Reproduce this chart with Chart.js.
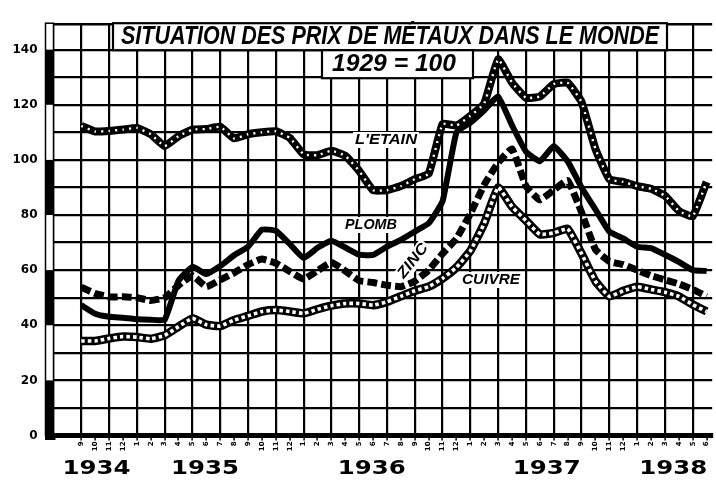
<!DOCTYPE html>
<html><head><meta charset="utf-8">
<script src="https://cdn.jsdelivr.net/npm/chart.js@4"></script>
<style>html,body{margin:0;padding:0;background:#fff}</style>
</head><body>
<canvas id="c" width="716" height="482"></canvas>
<script>
// Months Sep 1934 .. Jun 1938 (index 0 = Sept 1934)
const months = ['9','10','11','12',
  '1','2','3','4','5','6','7','8','9','10','11','12',
  '1','2','3','4','5','6','7','8','9','10','11','12',
  '1','2','3','4','5','6','7','8','9','10','11','12',
  '1','2','3','4','5','6'];
const years = ['1934','1935','1936','1937','1938'];
const yTickLabels = [0,20,40,60,80,100,120,140];

// 1929 = 100
const tin = [112.3,110.3,110.5,111,111.6,109.3,105,108.6,111,111.2,
  112,107.8,109.3,110,110.4,108,102,101.7,103.3,101.5,
  96,89,89,90.5,93,95,113,112.5,116,120.5,
  136.5,128,122.5,123,127.5,128,121,104,93,92,
  90.5,89.5,87,81.5,79.5,92];
const lead = [47.3,44.2,43.1,42.7,42.2,42,42,56.2,61.2,58.6,
  61.5,65.4,68.5,74.7,74.3,69.5,64.4,68.1,70.7,68.2,
  65.6,65.5,68.5,71,74,77,85,110,113.5,118,
  123,112.5,103,99.5,105,99.5,90,82,74,71.5,
  68.5,68,65.6,63,60,59.7];
const zinc = [53.8,51.5,50.3,50.3,50,49,50,54.5,58,54,
  56.5,59,62,64,62.5,59.5,56.7,59.8,62.8,59.7,
  56.2,55.5,54.5,54,56,60,66,71.5,80.5,91,
  99,104,90.5,85.5,89,92.5,81,67.5,63.2,62,
  60,58,56.5,55,53,50.5];
const copper = [34.3,34.3,35.2,35.9,35.7,35.1,36.3,39.5,42.5,40.2,
  39.7,41.9,43.4,45,45.5,45,44.3,45.8,47.1,47.9,
  47.9,47.3,48.5,50.5,52.5,54,57,61,67,77,
  90,83,78,73,73.5,75,66,56,50.5,52.5,
  54,53,52,50.5,47.5,45];

const pts = arr => arr.map((v,i)=>({x:i,y:v}));

function fitText(ctx, text, cx, cy, w, font, angle){
  ctx.save();
  ctx.font = font;
  const m = ctx.measureText(text).width;
  ctx.translate(cx, cy);
  if (angle) ctx.rotate(angle);
  ctx.scale(w/m, 1);
  ctx.textAlign = 'center';
  ctx.textBaseline = 'middle';
  ctx.fillStyle = '#000';
  ctx.fillText(text, 0, 0);
  ctx.restore();
}

const deco = {
  id:'deco',
  afterDraw(chart){
    const ctx = chart.ctx, ca = chart.chartArea;
    const xs = chart.scales.x, ys = chart.scales.y;
    ctx.save();
    // top frame
    ctx.strokeStyle='#000'; ctx.lineWidth=2.5;
    ctx.beginPath(); ctx.moveTo(45, ca.top+1); ctx.lineTo(ca.right, ca.top+1); ctx.stroke();
    // bottom frame extension under the left bar
    ctx.lineWidth=5;
    ctx.beginPath(); ctx.moveTo(45, ca.bottom+2); ctx.lineTo(ca.left+2, ca.bottom+2); ctx.stroke();
    // left bar with alternating blocks
    ctx.fillStyle='#fff'; ctx.fillRect(45, ca.top, 8, ca.bottom-ca.top);
    ctx.fillStyle='#000';
    for (let v=0; v<140; v+=40){
      const y1 = ys.getPixelForValue(v+20), y0 = ys.getPixelForValue(v);
      ctx.fillRect(45, y1, 8.5, y0-y1);
    }
    ctx.lineWidth=1.5;
    ctx.strokeRect(45.5, ca.top, 8, ca.bottom-ca.top);
    // title boxes
    ctx.fillStyle='#fff'; ctx.lineWidth=2.2; ctx.strokeStyle='#000';
    ctx.fillRect(113, ca.top, 554, 27); ctx.strokeRect(113, ca.top, 554, 27);
    ctx.fillRect(322, ca.top+27, 151, 28); ctx.strokeRect(322, ca.top+27, 151, 28);
    fitText(ctx, 'SITUATION DES PRIX DE MÉTAUX DANS LE MONDE', 390, ca.top+14, 538, 'italic bold 25px "Liberation Sans"');
    fitText(ctx, '1929 = 100', 394, ca.top+41.5, 124, 'italic bold 24px "Liberation Sans"');
    // series labels
    const labs = [
      ["L'ETAIN", 386, 140, 62],
      ['PLOMB', 371, 225, 52],
      ['CUIVRE', 491, 280, 58]
    ];
    labs.forEach(([t,x,y,w])=>{
      ctx.fillStyle='#fff'; ctx.fillRect(x-w/2-2, y-8, w+4, 16);
      fitText(ctx, t, x, y, w, 'italic bold 15px "Liberation Sans"');
    });
    ctx.save(); ctx.translate(413,261); ctx.rotate(-0.9);
    ctx.fillStyle='#fff'; ctx.fillRect(-22,-8,44,16); ctx.restore();
    fitText(ctx, 'ZINC', 413, 261, 40, 'italic bold 15px "Liberation Sans"', -0.9);
    // year labels
    const yearPos = [1.1, 8.9, 20.9, 33.5, 42.6];
    years.forEach((t,k)=>{
      fitText(ctx, t, xs.getPixelForValue(yearPos[k]), 469, 68, 'bold 19px "DejaVu Sans"');
    });
    ctx.restore();
  }
};

const black = '#000', white = '#fff';
const base = {pointRadius:0, tension:0.12, borderJoinStyle:'round', fill:false};
new Chart(document.getElementById('c'), {
  type:'line',
  data:{ datasets:[
    {...base, label:'tin-core', data:pts(tin), borderColor:white, borderWidth:2.4, borderDash:[2,5], order:1},
    {...base, label:'copper-core', data:pts(copper), borderColor:white, borderWidth:3.6, borderDash:[3.5,3], order:1},
    {...base, label:"L'ETAIN", data:pts(tin), borderColor:black, borderWidth:8, order:2},
    {...base, label:'PLOMB', data:pts(lead), borderColor:black, borderWidth:6, order:2},
    {...base, label:'ZINC', data:pts(zinc), borderColor:black, borderWidth:7, borderDash:[10,4], order:2},
    {...base, label:'CUIVRE', data:pts(copper), borderColor:black, borderWidth:8.5, order:2}
  ]},
  options:{
    responsive:false, animation:false, devicePixelRatio:1,
    layout:{padding:{top:12,right:0,left:0,bottom:0}},
    plugins:{legend:{display:false}, tooltip:{enabled:false}},
    scales:{
      x:{ type:'linear', min:-2, max:45.4,
        afterBuildTicks:(s)=>{ const t=[]; for(let i=-2;i<=45;i++) t.push({value:i}); s.ticks=t; },
        ticks:{ autoSkip:false, maxRotation:90, minRotation:90, padding:1, color:'#000',
          font:{size:7, weight:'bold', family:'DejaVu Sans'},
          callback:(v)=> (v>=0 && v<months.length) ? months[v] : '' },
        grid:{ color:(c)=> (c.tick && (((c.tick.value%2)+2)%2===0)) ? '#000' : 'rgba(0,0,0,0)',
          lineWidth:2.2, drawTicks:true, tickLength:5,
          tickColor:(c)=> (c.tick && c.tick.value>=0) ? '#000' : 'rgba(0,0,0,0)', tickWidth:1.5 },
        border:{display:true, color:'#000', width:5},
        afterFit:(s)=>{ s.height = 46.5; }
      },
      y:{ min:0, max:149.6,
        ticks:{ stepSize:10, includeBounds:false, color:'#000', padding:16,
          font:{size:12, weight:'bold', family:'DejaVu Sans'},
          callback:(v)=> yTickLabels.includes(v) ? String(v) : '' },
        grid:{ color:'#000', lineWidth:2.2, drawTicks:false },
        border:{display:false},
        afterFit:(s)=>{ s.width = 53.5; }
      }
    }
  },
  plugins:[deco]
});
</script>
</body></html>
